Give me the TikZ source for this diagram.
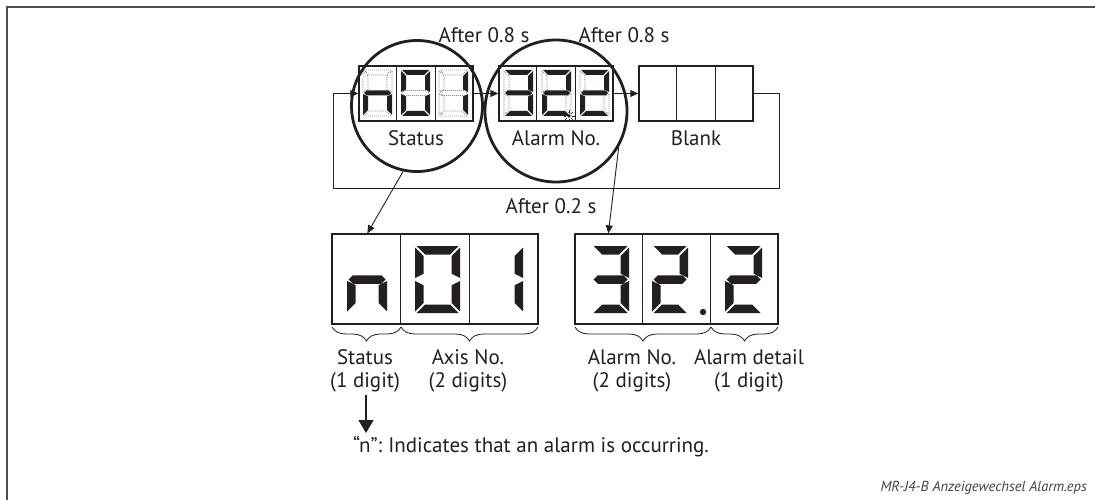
\documentclass[tikz,border=0pt]{standalone}
\usepackage{fontspec}
\setmainfont{PT Sans}
\usetikzlibrary{arrows.meta,decorations.pathreplacing,calc}
\definecolor{ink}{HTML}{231F20}

% seven-segment helpers
\newcommand\setdigit[6]{\def\zL{#1}\def\zT{#2}\pgfmathsetmacro\zR{#1+#3}\pgfmathsetmacro\zB{#2+#4}\pgfmathsetmacro\zM{#2+#4/2}\def\zt{#5}\def\zg{#6}}
\newcommand\zsega[1]{\path[#1] ({\zL+\zg},\zT) -- ({\zR-\zg},\zT) -- ({\zR-\zg-\zt},{\zT+\zt}) -- ({\zL+\zg+\zt},{\zT+\zt}) -- cycle;}
\newcommand\zsegd[1]{\path[#1] ({\zL+\zg},\zB) -- ({\zR-\zg},\zB) -- ({\zR-\zg-\zt},{\zB-\zt}) -- ({\zL+\zg+\zt},{\zB-\zt}) -- cycle;}
\newcommand\zsegg[1]{\path[#1] ({\zL+\zg},\zM) -- ({\zL+\zg+\zt/2},{\zM-\zt/2}) -- ({\zR-\zg-\zt/2},{\zM-\zt/2}) -- ({\zR-\zg},\zM) -- ({\zR-\zg-\zt/2},{\zM+\zt/2}) -- ({\zL+\zg+\zt/2},{\zM+\zt/2}) -- cycle;}
\newcommand\zsegf[1]{\path[#1] (\zL,{\zT+\zg}) -- ({\zL+\zt},{\zT+\zg+\zt}) -- ({\zL+\zt},{\zM-\zg-\zt/2}) -- (\zL,{\zM-\zg}) -- cycle;}
\newcommand\zsegb[1]{\path[#1] (\zR,{\zT+\zg}) -- ({\zR-\zt},{\zT+\zg+\zt}) -- ({\zR-\zt},{\zM-\zg-\zt/2}) -- (\zR,{\zM-\zg}) -- cycle;}
\newcommand\zsege[1]{\path[#1] (\zL,{\zM+\zg}) -- ({\zL+\zt},{\zM+\zg+\zt/2}) -- ({\zL+\zt},{\zB-\zg-\zt}) -- (\zL,{\zB-\zg}) -- cycle;}
\newcommand\zsegc[1]{\path[#1] (\zR,{\zM+\zg}) -- ({\zR-\zt},{\zM+\zg+\zt/2}) -- ({\zR-\zt},{\zB-\zg-\zt}) -- (\zR,{\zB-\zg}) -- cycle;}
\newcommand\segs[2]{\foreach \s in {#2}{\csname zseg\s\endcsname{#1}}}

\begin{document}
\begin{tikzpicture}[x=1pt,y=-1pt,
  box/.style={draw=ink, line width=1.4pt, minimum width=114pt, minimum height=55pt, inner sep=0pt},
  lbox/.style={draw=ink, line width=1.3pt, minimum height=90pt, inner sep=0pt},
  ring/.style={circle, draw=ink, line width=2.8pt, inner sep=0pt},
  arr/.style={draw=ink, line width=0.9pt, -{Triangle[length=8pt,width=7pt]}},
  bigarr/.style={draw=ink, line width=1.2pt, -{Triangle[length=13pt,width=15pt]}},
  lbl/.style={font=\fontsize{21}{23}\selectfont, text=ink, inner sep=0pt, align=center},
  foot/.style={font=\fontsize{14.5}{16}\selectfont\itshape, text=ink!85, inner sep=0pt},
  litseg/.style={fill=ink},
  offseg/.style={draw=ink!75, line width=0.7pt, dash pattern=on 0.7pt off 1.3pt},
  brc/.style={draw=ink, line width=0.8pt, decorate, decoration={brace, amplitude=14pt}},
  div/.style={draw=ink, line width=1.3pt}
]
\useasboundingbox (0,0) rectangle (1095,500);
\fill[white] (0,0) rectangle (1095,500);
% frame
\draw[ink!80, line width=1.5pt] (7,500) -- (7,7) -- (1095,7);

% ---------- upper displays ----------
\node[box] (g1) at (416,93.5) {};
\node[box] (g2) at (556,93.5) {};
\node[box] (blank) at (696,93.5) {};
\foreach \n in {g1,g2,blank}{
  \draw[div] ($(\n.north west)!1/3!(\n.north east)$) -- ($(\n.south west)!1/3!(\n.south east)$);
  \draw[div] ($(\n.north west)!2/3!(\n.north east)$) -- ($(\n.south west)!2/3!(\n.south east)$);
}
% n 0 1
\setdigit{363}{70}{29}{46}{5}{1}\segs{litseg}{c,e,g}\segs{offseg}{a,b,d,f}
\setdigit{401}{70}{29}{46}{5}{1}\segs{litseg}{a,b,c,d,e,f}\segs{offseg}{g}
\setdigit{439}{70}{29}{46}{5}{1}\segs{litseg}{b,c}\segs{offseg}{a,d,e,f,g}
% 3 2 2
\setdigit{504}{70}{29}{46}{5}{1}\segs{litseg}{a,b,c,d,g}\segs{offseg}{e,f}
\setdigit{542}{70}{29}{46}{5}{1}\segs{litseg}{a,b,g,e,d}\segs{offseg}{c,f}
\setdigit{580}{70}{29}{46}{5}{1}\segs{litseg}{a,b,g,e,d}\segs{offseg}{c,f}
% blinking decimal point
\fill[ink] (569,116) circle (1.8);
\foreach \a in {0,45,...,315} \draw[ink, line width=0.5pt] (569,116) ++(\a:3) -- ++(\a:2.5);

% labels inside upper area
\node[lbl] (lstat) at (416,138) {Status};
\node[lbl] (lalarm) at (556,138) {Alarm No.};
\node[lbl] (lblank) at (696,138) {Blank};
\node[lbl] (af1) at (484,35) {After 0.8 s};
\node[lbl] (af2) at (624,35) {After 0.8 s};
\node[lbl] (af3) at (551,206) {After 0.2 s};

% connectors upper
\coordinate (lr) at (779,188);
\coordinate (ll) at (333,188);
\draw[arr] (g1.east) -- (g2.west);
\draw[arr] (g2.east) -- (blank.west);
\draw[arr] (blank.east) -- (lr |- blank.east) -- (lr) -- (ll) -- (ll |- g1.west) -- (g1.west);

% circles
\node[ring, minimum size=131pt] (c1) at (417,106) {};
\node[ring, minimum size=142pt] (c2) at (556,111) {};

% ---------- lower displays ----------
\node[lbox, minimum width=206pt] (low1) at (435,279) {};
\node[lbox, minimum width=203pt] (low2) at (676.5,279) {};
\foreach \n in {low1,low2}{
  \draw[div] ($(\n.north west)!1/3!(\n.north east)$) -- ($(\n.south west)!1/3!(\n.south east)$);
  \draw[div] ($(\n.north west)!2/3!(\n.north east)$) -- ($(\n.south west)!2/3!(\n.south east)$);
}
\setdigit{347}{246}{40}{67}{8.5}{1.5}\segs{litseg}{c,e,g}
\setdigit{415}{246}{45}{67}{8.5}{1.5}\segs{litseg}{a,b,c,d,e,f}
\setdigit{483}{246}{40}{67}{8.5}{1.5}\segs{litseg}{b,c}
\setdigit{592}{246}{37}{67}{8.5}{1.5}\segs{litseg}{a,b,c,d,g}
\setdigit{652}{246}{36}{67}{8.5}{1.5}\segs{litseg}{a,b,g,e,d}
\setdigit{725}{246}{37}{67}{8.5}{1.5}\segs{litseg}{a,b,g,e,d}
\fill[ink] (703,312) circle (3.2);

% arrows from circles
\coordinate (t1) at ($(low1.north west)+(36,0)$);
\coordinate (t2) at ($(low2.north west)+(34,0)$);
\draw[arr] (c1.258) -- (t1);
\draw[arr] (c2.-30) -- (t2);

% braces
\draw[brc] (401,327) -- (332,327);
\draw[brc] (538,327) -- (401,327);
\draw[brc] (711,327) -- (575,327);
\draw[brc] (778,327) -- (711,327);

\node[lbl] (s1) at (365,371) {Status\\(1 digit)};
\node[lbl] (s2) at (468,371) {Axis No.\\(2 digits)};
\node[lbl] (s3) at (632,371) {Alarm No.\\(2 digits)};
\node[lbl] (s4) at (749,371) {Alarm detail\\(1 digit)};

\coordinate (ntip) at (366,433);
\coordinate (sfrom) at (366,395);
\draw[bigarr] (sfrom) -- (ntip);
\node[lbl, anchor=west] (note) at (353,447) {“n”:\hspace{6pt}Indicates that an alarm is occurring.};

\node[foot, anchor=east] (fn) at (1087,488) {MR-J4-B Anzeigewechsel Alarm.eps};
\end{tikzpicture}
\end{document}
